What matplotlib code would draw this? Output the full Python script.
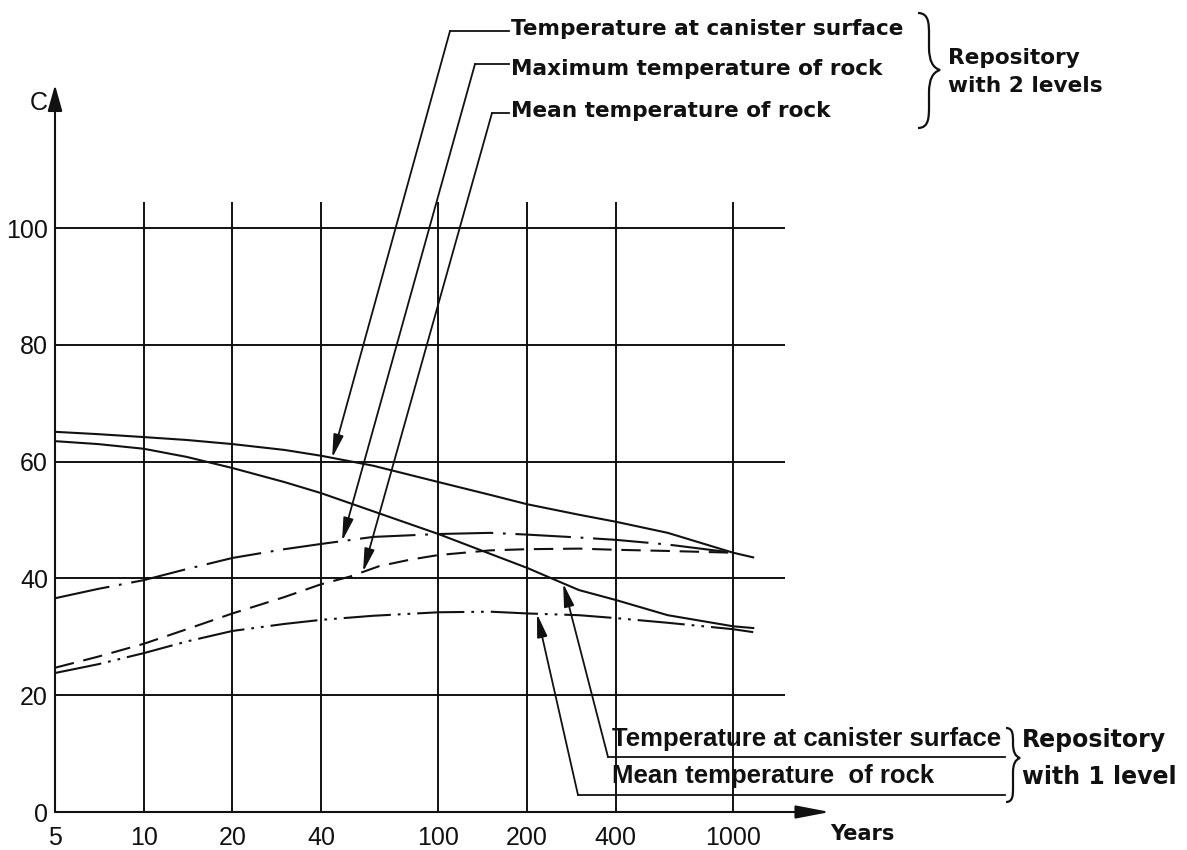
import numpy as np
import matplotlib
matplotlib.use("Agg")
import matplotlib.pyplot as plt
from matplotlib.path import Path
from matplotlib.patches import PathPatch
from matplotlib.lines import Line2D

plt.rcParams['font.family'] = ['Liberation Sans', 'DejaVu Sans']
plt.rcParams['lines.scale_dashes'] = False

# ---- data (years, temperature in C) ----
years_can2 = [5, 7, 10, 14, 20, 30, 40, 60, 100, 150, 200, 300, 400, 600, 1000, 1170]
temp_can2 = [65.1, 64.7, 64.2, 63.7, 63.0, 62.0, 61.0, 59.3, 56.5, 54.3, 52.7, 50.9, 49.7, 47.8, 44.4, 43.6]

years_can1 = [5, 7, 10, 14, 20, 30, 40, 60, 100, 150, 200, 250, 300, 400, 600, 1000, 1170]
temp_can1 = [63.5, 63.0, 62.2, 60.8, 58.9, 56.5, 54.6, 51.5, 47.6, 44.2, 41.8, 39.7, 38.0, 36.3, 33.7, 31.8, 31.5]

years_max2 = [5, 7, 10, 14, 20, 30, 40, 60, 100, 150, 200, 300, 400, 600, 1000]
temp_max2 = [36.6, 38.2, 39.7, 41.6, 43.5, 45.0, 45.9, 47.1, 47.6, 47.8, 47.5, 47.0, 46.6, 45.8, 44.4]

years_mean2 = [5, 7, 10, 14, 20, 30, 40, 50, 63, 80, 100, 150, 200, 300, 400, 600, 1000]
temp_mean2 = [24.7, 26.6, 28.8, 31.3, 34.0, 36.8, 39.0, 40.3, 42.1, 43.2, 44.0, 44.8, 45.0, 45.1, 44.9, 44.7, 44.4]

years_mean1 = [5, 7, 10, 14, 20, 30, 40, 60, 100, 150, 200, 300, 400, 600, 1000, 1170]
temp_mean1 = [23.8, 25.3, 27.2, 29.2, 31.0, 32.2, 32.9, 33.6, 34.2, 34.3, 34.0, 33.7, 33.2, 32.4, 31.3, 30.8]

x_ticks = [5, 10, 20, 40, 100, 200, 400, 1000]
x_tick_labels = ['5', '10', '20', '40', '100', '200', '400', '1000']
y_ticks = [0, 20, 40, 60, 80, 100]
x_grid = [10, 20, 40, 100, 200, 400, 1000]
y_grid = [20, 40, 60, 80, 100]

labels_2 = ['Temperature at canister surface', 'Maximum temperature of rock', 'Mean temperature of rock']
labels_1 = ['Temperature at canister surface', 'Mean temperature  of rock']
# x positions (years) where the pointers touch the curves
pointer_2 = [43.6, 47.1, 55.5]
pointer_1 = [265, 216]

W, H = 1187, 850
fig = plt.figure(figsize=(W / 100, H / 100), dpi=100)

# axes placement: log x from 5 to 2200, y from 0 to 126
x_left, x_right = 5, 2200
px_per_dec = 294.7
ax_left_px = 55
ax_w_px = px_per_dec * np.log10(x_right / x_left)
y0_px, px_per_deg = 812, 5.84
y_top = 126
ax = fig.add_axes([ax_left_px / W, (H - y0_px) / H, ax_w_px / W, y_top * px_per_deg / H])
ax.set_xscale('log')
ax.set_xlim(x_left, x_right)
ax.set_ylim(0, y_top)
for s in ax.spines.values():
    s.set_visible(False)
ax.patch.set_alpha(0)

ink = '#111111'
lw_grid = 1.4

# grid
ax.hlines(y_grid, 5, 1500, color=ink, lw=lw_grid, zorder=1)
ax.vlines(x_grid, 0, 104.5, color=ink, lw=lw_grid, zorder=1)

# axes with arrows
ax.annotate('', xy=(5, 124.5), xytext=(5, 0),
            arrowprops=dict(arrowstyle='-|>,head_length=1.0,head_width=0.28', color=ink,
                            lw=1.5, mutation_scale=16, shrinkA=0, shrinkB=0))
ax.annotate('', xy=(2130, 0), xytext=(5, 0),
            arrowprops=dict(arrowstyle='-|>,head_length=1.3,head_width=0.25', color=ink,
                            lw=1.5, mutation_scale=16, shrinkA=0, shrinkB=0))

# ticks
ax.set_xticks(x_ticks)
ax.set_xticklabels(x_tick_labels)
ax.xaxis.set_minor_locator(matplotlib.ticker.NullLocator())
ax.set_yticks(y_ticks)
ax.set_yticklabels([str(v) for v in y_ticks])
ax.tick_params(axis='both', length=0, labelsize=18, colors=ink)
ax.tick_params(axis='x', pad=10)
ax.tick_params(axis='y', pad=5)

# curves
lw_c = 1.5
ax.plot(years_can2, temp_can2, color=ink, lw=lw_c, zorder=3)
ax.plot(years_can1, temp_can1, color=ink, lw=lw_c, zorder=3)
ax.plot(years_max2, temp_max2, color=ink, lw=lw_c, dashes=(40, 7, 2, 7), zorder=3)
ax.plot(years_mean2, temp_mean2, color=ink, lw=lw_c, dashes=(14, 7), zorder=3)
ax.plot(years_mean1, temp_mean1, color=ink, lw=lw_c, dashes=(34, 5, 2, 5, 2, 5), zorder=3)


def fp(x, y):
    """image pixel (top-left origin) -> figure fraction"""
    return x / W, 1 - y / H


def interp_log(xs, ys, x):
    return float(np.interp(np.log10(x), np.log10(xs), ys))


arrow_kw = dict(arrowstyle='-|>,head_length=1.0,head_width=0.22', color=ink, lw=1.3,
                mutation_scale=14, shrinkA=0, shrinkB=0)
bold_top = dict(family='DejaVu Sans', fontsize=15.6, fontweight='bold', color=ink)
bold_bot = dict(family='Liberation Sans', fontsize=18.5, fontweight='bold', color=ink)

# axis titles
fig.text(*fp(39, 103), 'C', fontsize=18, ha='center', va='center', color=ink)
fig.text(*fp(862, 834), 'Years', fontsize=15, fontweight='bold', family='DejaVu Sans',
         ha='center', va='center', color=ink)

# upper labels (two-level repository)
top_rows = [(31, 450, 29), (64, 475, 69), (113, 492, 111)]
series_2 = [(years_can2, temp_can2), (years_max2, temp_max2), (years_mean2, temp_mean2)]
for lab, (ly, cx, ty), px_, (xs, ys) in zip(labels_2, top_rows, pointer_2, series_2):
    fig.add_artist(Line2D([cx / W, 509 / W], [1 - ly / H, 1 - ly / H], color=ink, lw=1.3,
                          transform=fig.transFigure))
    fig.text(*fp(511, ty), lab, ha='left', va='center', **bold_top)
    ax.annotate('', xy=(px_, interp_log(xs, ys, px_)), xycoords='data',
                xytext=fp(cx, ly), textcoords='figure fraction', arrowprops=arrow_kw)

# lower labels (one-level repository)
bot_rows = [(757, 608, 739), (795, 578, 776)]
series_1 = [(years_can1, temp_can1), (years_mean1, temp_mean1)]
for lab, (ly, cx, ty), px_, (xs, ys) in zip(labels_1, bot_rows, pointer_1, series_1):
    fig.add_artist(Line2D([cx / W, 1005 / W], [1 - ly / H, 1 - ly / H], color=ink, lw=1.3,
                          transform=fig.transFigure))
    fig.text(*fp(612, ty), lab, ha='left', va='center', **bold_bot)
    ax.annotate('', xy=(px_, interp_log(xs, ys, px_)), xycoords='data',
                xytext=fp(cx, ly), textcoords='figure fraction', arrowprops=arrow_kw)


def brace(x0, x1, ytop, ybot, ytip):
    """right-pointing curly brace in image pixels"""
    xm = (x0 + x1) / 2
    r = (x1 - x0) / 2
    pts = [
        (x0, ytop),
        (xm, ytop), (xm, ytop + r), (xm, ytop + 2 * r),
        (xm, ytip - 2 * r),
        (xm, ytip - r * 0.3), (x1, ytip),
        (xm, ytip + r * 0.3), (xm, ytip + 2 * r),
        (xm, ybot - 2 * r),
        (xm, ybot - r), (xm, ybot), (x0, ybot),
    ]
    codes = [Path.MOVETO,
             Path.CURVE4, Path.CURVE4, Path.CURVE4,
             Path.LINETO,
             Path.CURVE3, Path.CURVE3,
             Path.CURVE3, Path.CURVE3,
             Path.LINETO,
             Path.CURVE4, Path.CURVE4, Path.CURVE4]
    verts = [fp(x, y) for x, y in pts]
    patch = PathPatch(Path(verts, codes), fill=False, edgecolor=ink, lw=1.6,
                      transform=fig.transFigure)
    fig.add_artist(patch)


brace(918, 940, 13, 128, 70)
fig.text(*fp(948, 58), 'Repository', ha='left', va='center', **bold_top)
fig.text(*fp(948, 86), 'with 2 levels', ha='left', va='center', **bold_top)

brace(1006, 1020, 728, 802, 758)
fig.text(*fp(1022, 740), 'Repository', ha='left', va='center', **dict(bold_top, fontsize=17))
fig.text(*fp(1022, 777), 'with 1 level', ha='left', va='center', **dict(bold_top, fontsize=17))

fig.savefig('out.png', dpi=100, facecolor='white')
